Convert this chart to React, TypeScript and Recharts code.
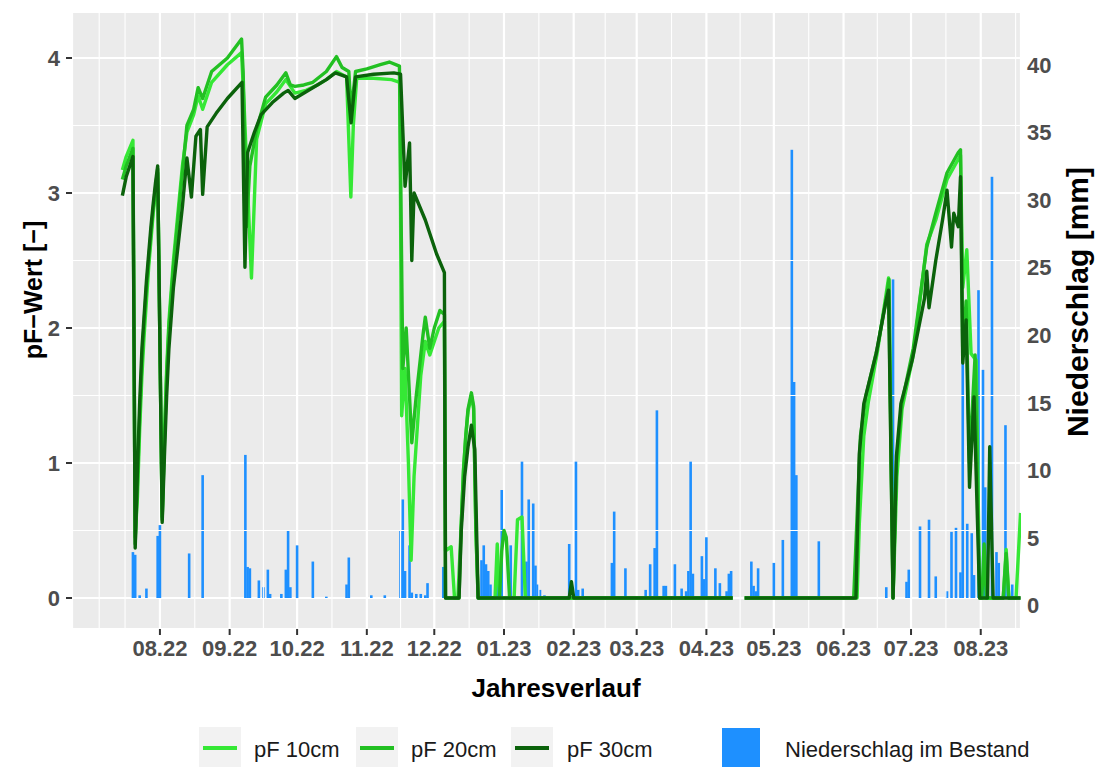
import React from 'react';
import { ComposedChart, Bar, Line, XAxis, YAxis, CartesianGrid, ReferenceLine } from 'recharts';

const FONT = '"Liberation Sans", Arial, Helvetica, sans-serif';

// x values: days since 01.08.2022
const monthTicks = [0, 31, 61, 92, 122, 153, 184, 212, 243, 273, 304, 334, 365];
const monthLabels = ['08.22', '09.22', '10.22', '11.22', '12.22', '01.23', '02.23', '03.23', '04.23', '05.23', '06.23', '07.23', '08.23'];
const minorDays = [-27, -15.5, 15.5, 46, 76.5, 107, 137.5, 168.5, 198, 227.5, 258, 288.5, 319, 349.5, 380.5];
const xDomain = [-39.1, 382.9];

const pfTicks = [0, 1, 2, 3, 4];
const pfMinor = [0.5, 1.5, 2.5, 3.5];
const pfDomain = [-0.2296, 4.3407];
const rainTicks = [0, 5, 10, 15, 20, 25, 30, 35, 40];
const rainDomain = [-2.296, 43.407];

// Niederschlag im Bestand [mm]: [day, mm]
const rain: [number, number][] = [
  [-12, 3.4], [-11, 3.2], [-9, 0.2], [-6, 0.7], [-1, 4.6], [0, 5.4], [13, 3.3], [19, 9.1],
  [38, 10.6], [39, 2.3], [40, 2.2], [44, 1.3], [46, 0.8], [48, 2.1], [49, 0.3], [54, 0.3],
  [56, 2.1], [57, 5.0], [58, 0.8], [61, 3.9], [68, 2.7], [74, 0.1], [83, 1.0], [84, 3.0],
  [94, 0.2], [100, 0.2], [107, 5.0], [108, 7.3], [109, 2.0], [111, 3.9], [112, 0.4], [114, 0.3],
  [116, 0.3], [118, 0.2], [119, 1.1], [126, 2.3], [143, 2.8], [144, 3.9], [145, 2.5], [146, 2.0],
  [147, 1.0], [150, 3.3], [152, 8.0], [156, 3.9], [161, 10.1], [163, 2.7], [164, 7.3], [166, 7.0],
  [167, 2.4], [168, 1.0], [169, 0.6], [171, 0.2], [182, 4.0], [185, 10.1], [186, 0.6], [188, 0.7],
  [201, 2.6], [202, 6.4], [207, 2.2], [216, 0.6], [218, 2.5], [220, 3.7], [221, 13.9], [224, 0.9],
  [225, 0.9], [229, 2.5], [232, 0.7], [234, 0.5], [235, 2.0], [236, 10.1], [237, 1.8], [241, 3.1],
  [242, 1.4], [243, 4.5], [247, 2.2], [249, 1.1], [252, 0.5], [253, 1.8], [254, 2.0], [263, 2.7],
  [264, 0.9], [265, 0.5], [266, 2.2], [273, 2.6], [277, 4.3], [281, 33.2], [282, 16.0], [283, 9.1],
  [293, 4.2], [323, 0.8], [326, 23.6], [332, 1.2], [333, 2.1], [338, 5.3], [342, 5.8], [345, 1.6],
  [350, 0.5], [352, 4.9], [354, 5.2], [356, 1.9], [357, 19.0], [359, 5.5], [361, 4.8], [362, 1.7],
  [364, 22.8], [366, 16.9], [367, 8.2], [370, 31.2], [372, 3.4], [373, 2.6], [376, 12.8], [379, 1.0],
];

// pF 10cm: [day, pF]
const pf10: [number, number | null][] = [
  [-16.7, 3.17], [-15, 3.27], [-12, 3.39], [-11, 0.45], [-10, 0.75], [-9, 1.25], [-8, 1.65], [-7, 1.95],
  [-6, 2.2], [-5, 2.45], [-4, 2.65], [-3, 2.85], [-2, 3.0], [-1, 3.15], [1, 0.6], [2, 1.2], [3, 1.7],
  [4, 2.05], [6, 2.5], [8, 2.85], [10, 3.2], [12, 3.45], [15, 3.58], [17, 3.72], [19, 3.62], [23, 3.82],
  [30, 3.95], [36.3, 4.04], [37.3, 3.7], [40.7, 2.37], [43, 3.4], [47, 3.66], [52, 3.75], [56, 3.84],
  [60, 3.74], [65, 3.76], [70, 3.8], [74, 3.84], [78.5, 3.9], [83, 3.86], [84.9, 2.97], [86, 3.5],
  [87.5, 3.85], [95, 3.85], [103, 3.84], [106.7, 3.82], [107.5, 1.35], [109, 1.7], [110.5, 1.0],
  [111.7, 0.28], [113, 0.9], [116, 1.65], [118, 1.9], [120, 1.8], [124, 2.0], [126.5, 2.05], [127, 0.35],
  [129.5, 0.38], [131, 0], [132.5, 0], [134, 0.55], [135, 0.95], [136, 1.2], [137, 1.38], [138.5, 1.5],
  [139.5, 1.4], [140.5, 0.5], [141.5, 0], [149, 0], [150, 0.4], [151, 0], [157.5, 0], [159, 0.58],
  [161, 0.6], [162.5, 0], [254.7, 0], [257, null], [260, 0], [310, 0], [311, 0.55], [313, 1.2],
  [315, 1.45], [319, 1.82], [324, 2.37], [326, 0], [327.7, 0.9], [330, 1.4], [335, 1.8], [341, 2.62],
  [345, 2.8], [350, 3.1], [355, 3.25], [356, 3.28], [357, 2.3], [358.8, 2.58], [360.7, 1.81], [363, 1.76],
  [364.5, 0], [375, 0], [376.3, 0.36], [377.5, 0], [380.7, 0], [382.7, 0.63],
];

// pF 20cm
const pf20: [number, number | null][] = [
  [-16.7, 3.1], [-15, 3.2], [-12, 3.33], [-11, 0.4], [-10, 0.85], [-9, 1.35], [-8, 1.75], [-7, 2.05],
  [-6, 2.3], [-5, 2.5], [-4, 2.7], [-3, 2.88], [-2, 3.03], [-1, 3.18], [1, 0.58], [2, 1.15], [3, 1.65],
  [4, 2.0], [6, 2.45], [8, 2.8], [10, 3.15], [12, 3.5], [15, 3.62], [17, 3.78], [19, 3.7], [23, 3.9],
  [30, 4.0], [36.3, 4.14], [37, 3.9], [38.5, 2.75], [40, 3.2], [43, 3.47], [47, 3.71], [52, 3.8],
  [56, 3.89], [58, 3.8], [60, 3.79], [64, 3.8], [68, 3.82], [74, 3.9], [78.5, 4.01], [81, 3.93],
  [84, 3.9], [85, 3.6], [87, 3.9], [92, 3.92], [98, 3.95], [102, 3.97], [106.5, 3.94], [108, 1.7],
  [109.5, 2.0], [112, 1.15], [114, 1.5], [117, 1.95], [118, 2.08], [120, 1.85], [122, 2.0], [124.5, 2.13],
  [126.5, 2.1], [127, 0], [133, 0], [134, 0.55], [135, 0.95], [136, 1.2], [137, 1.4], [138.5, 1.52],
  [139.5, 1.42], [140.5, 0.5], [141.5, 0], [151, 0], [152, 0.35], [153, 0.5], [154, 0.45], [155.5, 0],
  [254.7, 0], [257, null], [260, 0], [308.5, 0], [310, 0.6], [311.5, 1.2], [314, 1.5], [319, 1.85],
  [323, 2.22], [324.2, 2.36], [326, 0], [327.5, 1.0], [330, 1.45], [335, 1.85], [341, 2.6], [345, 2.85],
  [350, 3.15], [355, 3.3], [356, 3.32], [357, 1.8], [358.5, 2.2], [360, 1.0], [362.5, 1.8], [364.5, 0],
  [365.5, 0], [366.5, 0.4], [367.5, 0], [375, 0], [376.3, 0.33], [377.5, 0], [382.7, 0],
];

// pF 30cm
const pf30: [number, number | null][] = [
  [-16.7, 2.98], [-15, 3.12], [-12, 3.27], [-11, 0.37], [-10, 0.95], [-9, 1.45], [-8, 1.85], [-7, 2.1],
  [-6, 2.35], [-5, 2.55], [-4, 2.75], [-3, 2.92], [-2, 3.07], [-1, 3.2], [1, 0.56], [2, 1.05], [3, 1.5],
  [4, 1.85], [6, 2.3], [8, 2.6], [10, 2.9], [12, 3.26], [14, 2.97], [16, 3.42], [18, 3.47], [19, 2.99],
  [21, 3.49], [25, 3.59], [30, 3.7], [36.5, 3.82], [37.8, 2.45], [39, 3.3], [42, 3.45], [45, 3.58],
  [50, 3.67], [55, 3.74], [57, 3.76], [60, 3.7], [65, 3.75], [70, 3.8], [74, 3.84], [78, 3.89],
  [83, 3.86], [85, 3.52], [87, 3.86], [95, 3.88], [104, 3.89], [107, 3.88], [109, 3.05], [111, 3.37],
  [112, 2.5], [113, 3.0], [118, 2.8], [123, 2.55], [126.5, 2.41], [127, 0], [133, 0], [134, 0.5],
  [135.5, 0.9], [137, 1.12], [138.5, 1.28], [140, 1.1], [141.5, 0], [182, 0], [183, 0.12], [184, 0],
  [254.7, 0], [257, null], [260, 0], [309.5, 0], [311, 1.07], [313, 1.44], [318.5, 1.81], [323, 2.21],
  [324, 2.28], [326, 0], [327.5, 1.05], [329.5, 1.44], [334.5, 1.76], [340, 2.22], [341, 2.42],
  [342, 2.15], [345, 2.5], [348, 2.8], [350, 3.02], [352, 2.6], [353, 2.85], [355, 2.75], [356, 3.12],
  [357, 1.74], [358.5, 2.06], [360, 0.82], [362, 1.49], [364.5, 0], [368, 0], [369, 1.12], [370.5, 0],
  [382.7, 0],
];

const seriesNames = ['pF 10cm', 'pF 20cm', 'pF 30cm'];
const seriesColors = ['#35E835', '#22C022', '#0B620B'];
const rainName = 'Niederschlag im Bestand';
const rainColor = '#1E90FF';

const rainData = rain.map(([day, mm]) => ({ day, rain: mm }));
const toRows = (s: [number, number | null][]) => s.map(([day, v]) => ({ day, v }));
const lineData = [toRows(pf10), toRows(pf20), toRows(pf30)];

const XTick = (props: any) => {
  const { x, y, payload } = props;
  const i = monthTicks.indexOf(payload.value);
  return (
    <text x={x} y={y} dy={16} textAnchor="middle" fill="#4D4D4D" fontSize={22} fontWeight="bold" fontFamily={FONT}>
      {i >= 0 ? monthLabels[i] : ''}
    </text>
  );
};

const LTick = (props: any) => {
  const { x, y, payload } = props;
  return (
    <text x={x} y={y} dy={8} textAnchor="end" fill="#4D4D4D" fontSize={22} fontWeight="bold" fontFamily={FONT}>
      {payload.value}
    </text>
  );
};

const RTick = (props: any) => {
  const { x, y, payload } = props;
  return (
    <text x={x} y={y} dy={15} textAnchor="start" fill="#4D4D4D" fontSize={22} fontWeight="bold" fontFamily={FONT}>
      {payload.value}
    </text>
  );
};

// draws each daily bar with a fixed visible width, centred on the scale position
const RainBar = (props: any) => {
  const { x, y, width, height, fill } = props;
  if (x == null || y == null || !height || height <= 0) return null;
  const cx = x + (width || 0) / 2;
  return <rect x={cx - 1.3} y={y} width={2.6} height={height} fill={fill} />;
};

const legendKeys = [
  { keyX: 199, textX: 254 },
  { keyX: 356, textX: 411 },
  { keyX: 511, textX: 567 },
];

export default function App() {
  return (
    <div style={{ position: 'absolute', left: 0, top: 0, width: 1100, height: 767, background: '#FFFFFF', fontFamily: FONT }}>
      <ComposedChart width={1100} height={767} data={rainData} margin={{ top: 12, right: 0, bottom: 98, left: 0 }}>
        <CartesianGrid xAxisId="x" yAxisId="pf" fill="#EBEBEB" stroke="#FFFFFF" strokeWidth={2.2} />
        {minorDays.map((d) => (
          <ReferenceLine key={'mx' + d} x={d} xAxisId="x" yAxisId="pf" stroke="#FFFFFF" strokeWidth={1.1} />
        ))}
        {pfMinor.map((v) => (
          <ReferenceLine key={'my' + v} y={v} xAxisId="x" yAxisId="pf" stroke="#FFFFFF" strokeWidth={1.1} />
        ))}
        <XAxis
          xAxisId="x"
          dataKey="day"
          type="number"
          domain={xDomain}
          ticks={monthTicks}
          interval={0}
          allowDataOverflow
          tick={<XTick />}
          tickLine={{ stroke: '#333333', strokeWidth: 2 }}
          tickSize={6}
          tickMargin={5}
          axisLine={false}
          height={40}
        />
        <YAxis
          yAxisId="pf"
          orientation="left"
          type="number"
          domain={pfDomain}
          ticks={pfTicks}
          interval={0}
          allowDataOverflow
          tick={<LTick />}
          tickLine={{ stroke: '#333333', strokeWidth: 2 }}
          tickSize={6}
          tickMargin={6}
          axisLine={false}
          width={72}
        />
        <YAxis
          yAxisId="rain"
          orientation="right"
          type="number"
          domain={rainDomain}
          ticks={rainTicks}
          interval={0}
          allowDataOverflow
          tick={<RTick />}
          tickLine={false}
          tickSize={0}
          tickMargin={6}
          axisLine={false}
          width={79}
        />
        <Bar xAxisId="x" yAxisId="rain" dataKey="rain" fill={rainColor} barSize={2} shape={<RainBar />} isAnimationActive={false} />
        {lineData.map((d, i) => (
          <Line
            key={seriesNames[i]}
            xAxisId="x"
            yAxisId="pf"
            data={d}
            dataKey="v"
            type="linear"
            stroke={seriesColors[i]}
            strokeWidth={3.4}
            strokeLinejoin="round"
            dot={false}
            activeDot={false}
            connectNulls={false}
            isAnimationActive={false}
          />
        ))}
      </ComposedChart>
      <svg width={1100} height={767} style={{ position: 'absolute', left: 0, top: 0, pointerEvents: 'none' }}>
        <text x={33} y={290} transform="rotate(-90 33 290)" textAnchor="middle" dominantBaseline="central" fontSize={25} fontWeight="bold" fill="#000" fontFamily={FONT}>
          pF−Wert [−]
        </text>
        <text x={1077} y={302} transform="rotate(-90 1077 302)" textAnchor="middle" dominantBaseline="central" fontSize={30} fontWeight="bold" fill="#000" fontFamily={FONT}>
          Niederschlag [mm]
        </text>
        <text x={556} y={697} textAnchor="middle" fontSize={26} fontWeight="bold" fill="#000" fontFamily={FONT}>
          Jahresverlauf
        </text>
        {legendKeys.map((k, i) => (
          <g key={seriesNames[i]}>
            <rect x={k.keyX} y={727} width={42} height={40} fill="#F2F2F2" />
            <line x1={k.keyX + 4} x2={k.keyX + 38} y1={748} y2={748} stroke={seriesColors[i]} strokeWidth={4} />
            <text x={k.textX} y={757} fontSize={22} fill="#1A1A1A" fontFamily={FONT}>
              {seriesNames[i]}
            </text>
          </g>
        ))}
        <rect x={722} y={728} width={38} height={39} fill={rainColor} />
        <text x={785} y={757} fontSize={22} fill="#1A1A1A" fontFamily={FONT}>
          {rainName}
        </text>
      </svg>
    </div>
  );
}
